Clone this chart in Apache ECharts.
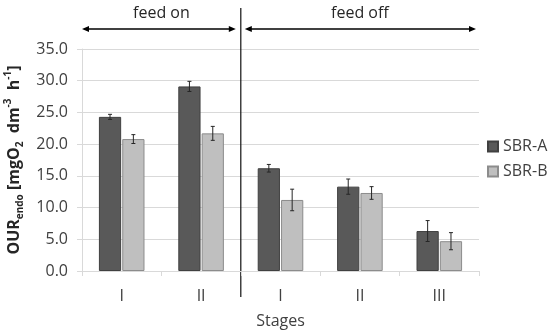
<!DOCTYPE html>
<html><head><meta charset="utf-8">
<script src="https://cdn.jsdelivr.net/npm/echarts@6/dist/echarts.min.js"></script>
<style>html,body{margin:0;padding:0;background:#fff}#c{width:550px;height:333px}</style>
</head><body><div id="c"></div>
<script>
var categories = ['I', 'II', 'I', 'II', 'III'];
var sbrA = [24.3, 29.1, 16.2, 13.3, 6.3];
var sbrB = [20.8, 21.7, 11.2, 12.3, 4.7];
var errA = [0.4, 0.8, 0.6, 1.2, 1.65];
var errB = [0.7, 1.1, 1.7, 1.0, 1.35];
var yTicks = [0, 5, 10, 15, 20, 25, 30, 35];
var periods = ['feed on', 'feed off'];
var periodSplit = 2; // number of categories in first period

var FONT = '"Open Sans", sans-serif';
var BAR_W = 0.28, BAR_GAP = 0.05;

var chart = echarts.init(document.getElementById('c'));

function errSeries(vals, errs, sign) {
  return {
    type: 'custom',
    silent: true,
    z: 5,
    data: vals.map(function (v, i) { return [i, v, errs[i]]; }),
    renderItem: function (params, api) {
      var i = api.value(0), v = api.value(1), e = api.value(2);
      var w = api.size([1, 0])[0];
      var bw = w * BAR_W, gap = bw * BAR_GAP;
      var off = sign * (bw + gap) / 2;
      var top = api.coord([i, v + e]);
      var bot = api.coord([i, v - e]);
      var x = top[0] + off;
      var st = { stroke: '#262626', lineWidth: 1 };
      return { type: 'group', children: [
        { type: 'line', shape: { x1: x, y1: top[1], x2: x, y2: bot[1] }, style: st },
        { type: 'line', shape: { x1: x - 2, y1: top[1], x2: x + 2, y2: top[1] }, style: st },
        { type: 'line', shape: { x1: x - 2, y1: bot[1], x2: x + 2, y2: bot[1] }, style: st }
      ]};
    }
  };
}

chart.setOption({
  animation: false,
  textStyle: { fontFamily: FONT },
  grid: { left: 82, right: 71, top: 49, bottom: 62, containLabel: false, outerBoundsMode: 'none' },
  legend: {
    orient: 'vertical', left: 487, top: 136, itemGap: 4, padding: 0,
    itemWidth: 10, itemHeight: 10, icon: 'rect',
    textStyle: { fontSize: 16, color: '#404040', fontFamily: FONT, lineHeight: 21 },
    data: ['SBR-A', 'SBR-B']
  },
  xAxis: {
    type: 'category', data: categories,
    name: 'Stages', nameLocation: 'middle', nameGap: 42,
    nameTextStyle: { fontSize: 16, color: '#404040', fontFamily: FONT },
    axisLine: { lineStyle: { color: '#d9d9d9' } },
    axisTick: { show: true, length: 5, lineStyle: { color: '#d9d9d9' } },
    axisLabel: { fontSize: 16, color: '#404040', margin: 17, fontFamily: FONT }
  },
  yAxis: {
    type: 'value', min: yTicks[0], max: yTicks[yTicks.length - 1], interval: 5,
    name: 'OUR{sub|endo} [mgO{sub|2}  dm{sup|-3}  h{sup|-1}]',
    nameLocation: 'middle', nameGap: 55, nameRotate: 90,
    nameTextStyle: {
      fontSize: 16, fontWeight: 'bold', color: '#262626', fontFamily: FONT,
      rich: {
        sub: { fontSize: 10, fontWeight: 'bold', color: '#262626', verticalAlign: 'bottom', lineHeight: 22, fontFamily: FONT },
        sup: { fontSize: 10, fontWeight: 'bold', color: '#262626', verticalAlign: 'top', lineHeight: 22, fontFamily: FONT }
      }
    },
    axisLine: { show: true, lineStyle: { color: '#d9d9d9' } },
    axisTick: { show: true, length: 5, lineStyle: { color: '#d9d9d9' } },
    splitLine: { lineStyle: { color: '#d9d9d9' } },
    axisLabel: { fontSize: 16, color: '#404040', margin: 14, fontFamily: FONT,
      formatter: function (v) { return v.toFixed(1); } }
  },
  series: [
    { name: 'SBR-A', type: 'bar', data: sbrA, barWidth: (BAR_W * 100) + '%', barGap: (BAR_GAP * 100) + '%',
      itemStyle: { color: '#595959', borderColor: '#404040', borderWidth: 1 } },
    { name: 'SBR-B', type: 'bar', data: sbrB, barWidth: (BAR_W * 100) + '%',
      itemStyle: { color: '#bfbfbf', borderColor: '#8c8c8c', borderWidth: 1 } },
    errSeries(sbrA, errA, -1),
    errSeries(sbrB, errB, 1)
  ]
});

// annotations: separator and period arrows derived from the category axis
var c0 = chart.convertToPixel({ xAxisIndex: 0 }, 0);
var c1 = chart.convertToPixel({ xAxisIndex: 0 }, 1);
var cw = c1 - c0;
var leftX = c0 - cw / 2;
var sepX = chart.convertToPixel({ xAxisIndex: 0 }, periodSplit) - cw / 2;
var rightX = chart.convertToPixel({ xAxisIndex: 0 }, categories.length - 1) + cw / 2;
var arrowY = 29, textY = 13;
function arrow(x1, x2) {
  var s = { fill: '#000' };
  return [
    { type: 'line', shape: { x1: x1 + 4, y1: arrowY, x2: x2 - 4, y2: arrowY }, style: { stroke: '#000', lineWidth: 1.3 } },
    { type: 'polygon', shape: { points: [[x1, arrowY], [x1 + 7, arrowY - 3], [x1 + 7, arrowY + 3]] }, style: s },
    { type: 'polygon', shape: { points: [[x2, arrowY], [x2 - 7, arrowY - 3], [x2 - 7, arrowY + 3]] }, style: s }
  ];
}
var els = [
  { type: 'line', shape: { x1: sepX, y1: 8, x2: sepX, y2: 297 }, style: { stroke: '#111', lineWidth: 1.2 } },
  { type: 'text', x: (leftX + sepX) / 2, y: textY, style: { text: periods[0], fontSize: 16, fill: '#262626', fontFamily: FONT, align: 'center', verticalAlign: 'middle' } },
  { type: 'text', x: (sepX + rightX) / 2, y: textY, style: { text: periods[1], fontSize: 16, fill: '#262626', fontFamily: FONT, align: 'center', verticalAlign: 'middle' } }
].concat(arrow(leftX, sepX - 5), arrow(sepX + 4, rightX - 3));
chart.setOption({ graphic: { elements: els } });
</script>
</body></html>
